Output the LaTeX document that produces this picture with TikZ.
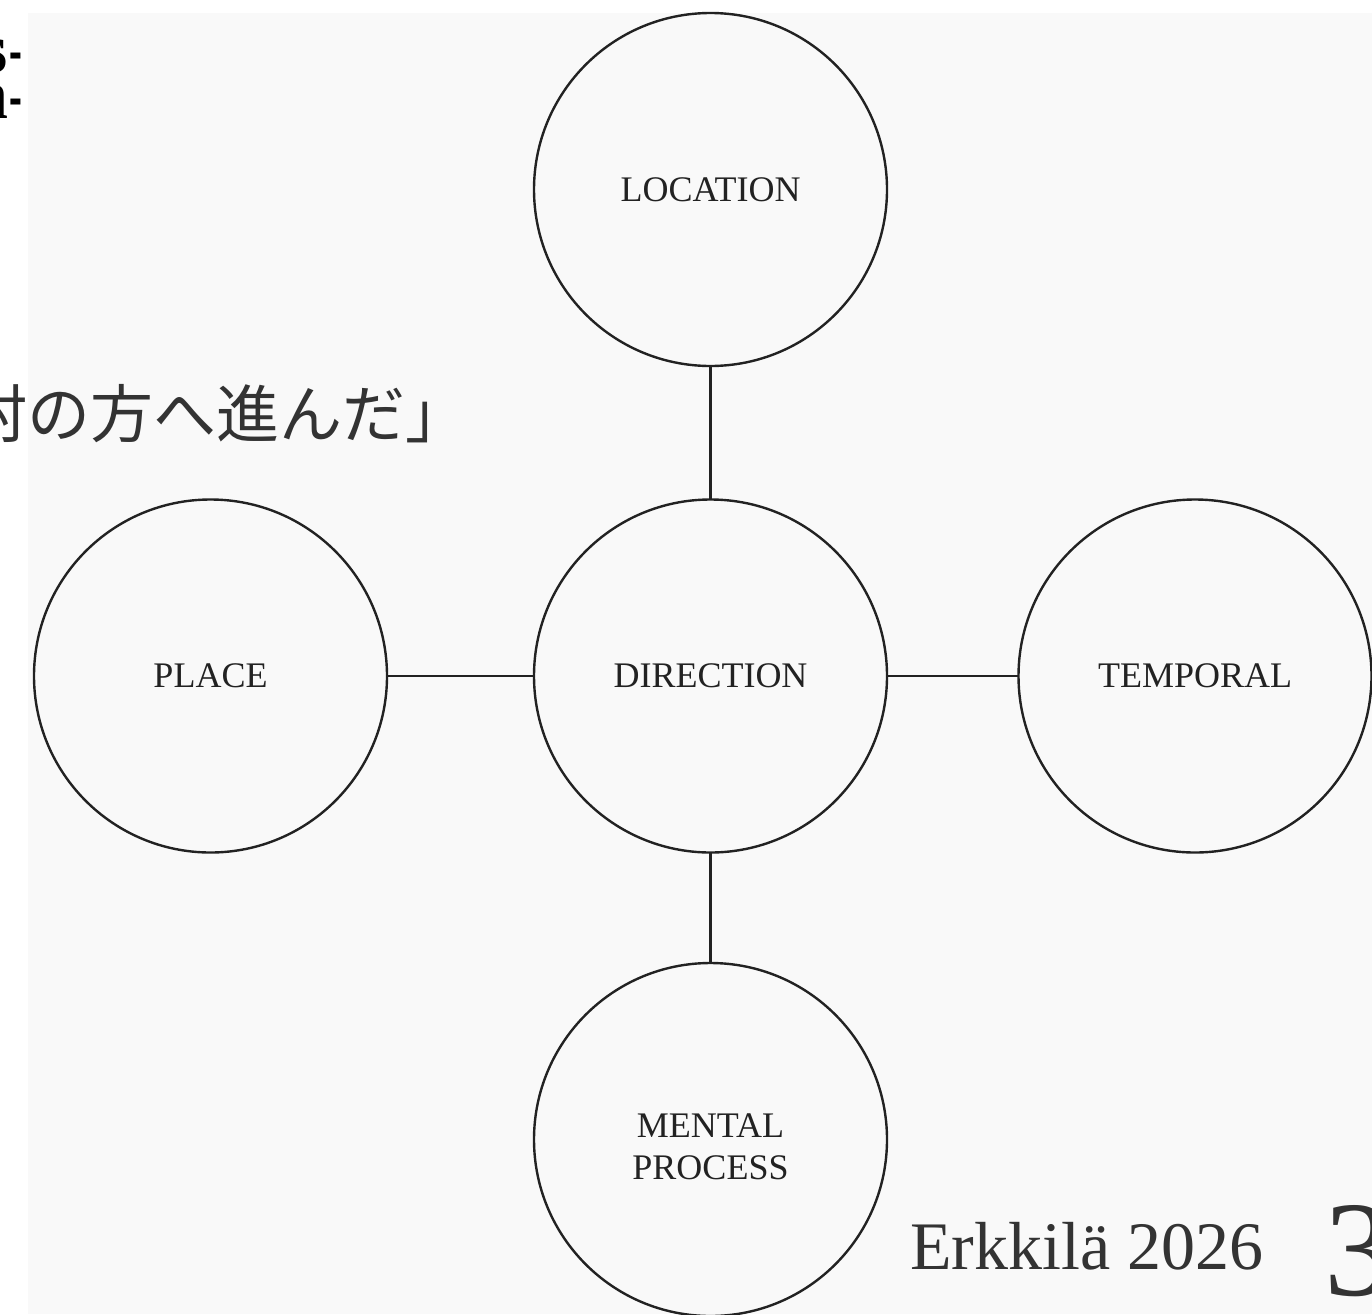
\documentclass[tikz,border=0pt]{standalone}
\usepackage{fontspec}
\setmainfont{Liberation Serif}
\newfontfamily\jpfont{Noto Sans CJK JP}
\definecolor{panel}{HTML}{F9F9F9}
\definecolor{ink}{HTML}{222222}
\definecolor{txt}{HTML}{333333}
\newcommand{\myhyph}{\scalebox{0.55}[1]{-}}
\tikzset{
  bubble/.style={circle, draw=ink, line width=2.4pt, minimum size=353pt, inner sep=0pt, outer sep=0pt,
     font=\fontsize{36}{40}\selectfont, text=ink, align=center},
  link/.style={draw=ink, line width=2.2pt},
  frag/.style={inner sep=0pt, anchor=base east, font=\fontsize{70}{80}\selectfont\bfseries, text=black}
}
\begin{document}
\begin{tikzpicture}[x=1pt,y=-1pt]
\useasboundingbox (0,0) rectangle (1372,1314);
\fill[white] (0,0) rectangle (1372,1314);
% fragments of surrounding page text
\node[frag] (f1) at (23,72) {s\kern2pt\myhyph};
\node[frag] (f2) at (23,118) {n\kern2pt\myhyph};
% panel
\fill[panel] (28,13) rectangle (1372,1314);
% Japanese caption fragment
\node[inner sep=0pt, anchor=west, text=txt, font=\jpfont\fontsize{63}{70}\selectfont] (jp) at (-36,414) {村の方へ進んだ」};
% circles
\node[bubble] (loc) at (710.5,189.5) {LOCATION};
\node[bubble] (dir) at (710.5,676) {DIRECTION};
\node[bubble] (pla) at (210.5,676) {PLACE};
\node[bubble] (tem) at (1195,676) {TEMPORAL};
\node[bubble] (men) at (710.5,1139.5) {};
\node[inner sep=0pt, align=center, text=ink, font=\fontsize{36}{42}\selectfont] (mentxt) at (710.5,1147) {MENTAL\\PROCESS};
% connectors
\draw[link] (loc) -- (dir);
\draw[link] (pla) -- (dir);
\draw[link] (dir) -- (tem);
\draw[link] (dir) -- (men);
% credit
\node[inner sep=0pt, anchor=base west, text=txt, font=\fontsize{68}{80}\selectfont] (cred) at (910,1269) {Erkkilä 2026};
\node[inner sep=0pt, anchor=base west, text=txt, font=\fontsize{136}{150}\selectfont] (num) at (1324,1295) {3};
\end{tikzpicture}
\end{document}
